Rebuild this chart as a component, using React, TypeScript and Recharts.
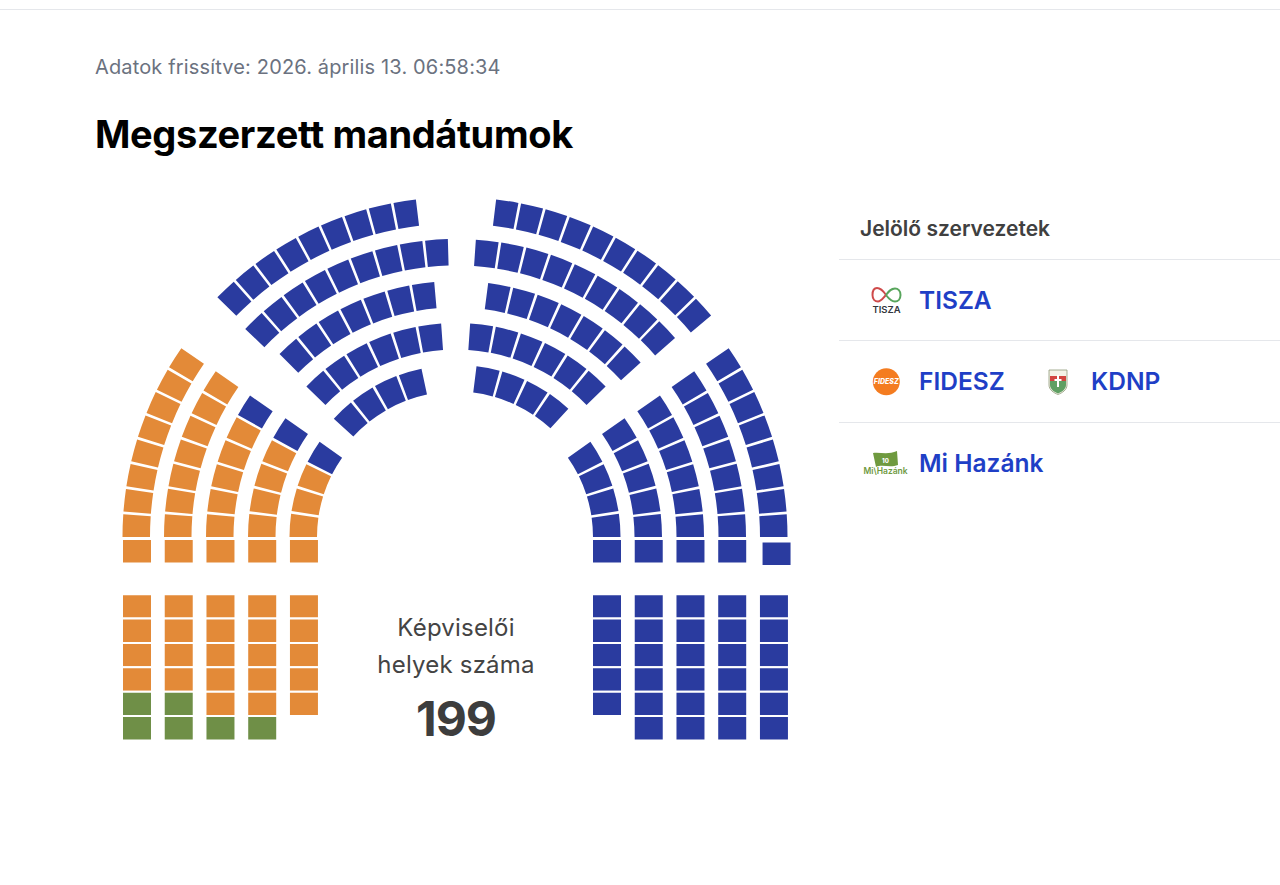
import React from 'react'
import { PieChart, Pie, Cell, BarChart, Bar, XAxis, YAxis, Rectangle } from 'recharts'

type Party = 'tisza' | 'fidesz' | 'mihazank'

const PARTY_COLORS: Record<Party, string> = {
  tisza: '#2a3b9f',
  fidesz: '#e38a38',
  mihazank: '#6f8f47',
}

// seats per row, outer row first
const sideLeftFidesz = [8, 7, 5, 4, 3]
const sideLeftTisza = [0, 0, 1, 1, 1]
const sideRightTisza = [8, 7, 6, 5, 4]
const topLeftTisza = [9, 9, 7, 6, 4]
const topRightTisza = [10, 9, 7, 6, 4]

// the horizontal seat just above the aisle
const aisleLeftParty: Party[] = ['fidesz', 'fidesz', 'fidesz', 'fidesz', 'fidesz']
const aisleRightParty: Party[] = ['tisza', 'tisza', 'tisza', 'tisza', 'tisza']

// lower blocks, per column
const lowerLeftFidesz = [4, 4, 5, 5, 5]
const lowerLeftMiHazank = [2, 2, 1, 1, 0]
const lowerRightTisza = [5, 6, 6, 6, 6]

// geometry of the rows
const topRadius = [334, 292, 250, 208, 166]
const sideRadius = [332.5, 291, 249, 207, 165.5]
const sideDepth = 27.5
const topDepth = 26.5
const topLeftEnds = [96.9, 91.6, 95, 94.1, 102]
const topLeftStarts = [135.6, 136.2, 134.9, 136, 137.4]
const topRightStarts = [83.1, 86.1, 82.6, 86.1, 82.9]
const topRightEnds = [40.2, 41.4, 42.4, 44, 47.4]
const sideSpan = [34.6, 34.7, 34.6, 35, 35.1]

const seatsOf = (counts: [Party, number][]) =>
  counts.flatMap(([party, n]) => Array.from({ length: n }, () => ({ party, value: 1 })))

const seatKeys = ['seat1', 'seat2', 'seat3', 'seat4', 'seat5', 'seat6']

function lowerColumns(aisle: Party[], columns: [Party, number][][]) {
  return columns.map((col, c) => {
    const seats = seatsOf(col)
    const row: Record<string, any> = { col: c, aisleSeat: 1, aisleParty: aisle[c], gap: 1.26 }
    seats.forEach((s, i) => {
      row[seatKeys[i]] = 1
      row[seatKeys[i] + 'Party'] = s.party
    })
    return row
  })
}

const lowerLeft = lowerColumns(
  aisleLeftParty,
  lowerLeftFidesz.map((n, i) => [['fidesz', n], ['mihazank', lowerLeftMiHazank[i]]] as [Party, number][]),
)
const lowerRight = lowerColumns(
  aisleRightParty,
  lowerRightTisza.map((n) => [['tisza', n]] as [Party, number][]),
)

function ArcRow(props: { id: string; cx: number; cy: number; from: number; to: number; radius: number; depth: number; seats: { party: Party; value: number }[] }) {
  const { id, cx, cy, from, to, radius, depth, seats } = props
  const mid = radius - depth / 2
  return (
    <Pie
      key={id}
      data={seats}
      dataKey="value"
      cx={cx}
      cy={cy}
      startAngle={from}
      endAngle={to}
      innerRadius={radius - depth}
      outerRadius={radius}
      paddingAngle={(2.6 / mid) * (180 / Math.PI)}
      stroke="none"
      isAnimationActive={false}
      legendType="none"
    >
      {seats.map((s, i) => (
        <Cell key={i} fill={PARTY_COLORS[s.party]} />
      ))}
    </Pie>
  )
}

function LowerBlock({ data, left, stray }: { data: Record<string, any>[]; left: number; stray?: number }) {
  return (
    <div style={{ position: 'absolute', left, top: 538.9 }}>
      <BarChart width={208.7} height={201.5} data={data} margin={{ top: 0, right: 0, bottom: 0, left: 0 }} barSize={30}>
        <XAxis dataKey="col" hide />
        <YAxis hide reversed domain={[0, 8.26]} />
        <Bar
          dataKey="aisleSeat"
          stackId="s"
          stroke="#fff"
          strokeWidth={2}
          isAnimationActive={false}
          shape={(p: any) => {
            const shift = p.index === stray ? 2.6 : 0
            return <Rectangle {...p} x={p.x + shift} y={p.y + shift} fill={PARTY_COLORS[data[p.index].aisleParty as Party]} />
          }}
        />
        <Bar dataKey="gap" stackId="s" fill="none" stroke="none" isAnimationActive={false} />
        {seatKeys.map((k) => (
          <Bar key={k} dataKey={k} stackId="s" stroke="#fff" strokeWidth={2} isAnimationActive={false}>
            {data.map((d, i) => (
              <Cell key={i} fill={d[k + 'Party'] ? PARTY_COLORS[d[k + 'Party'] as Party] : 'none'} />
            ))}
          </Bar>
        ))}
      </BarChart>
    </div>
  )
}

const text = (style: React.CSSProperties): React.CSSProperties => ({
  position: 'absolute',
  whiteSpace: 'nowrap',
  fontFamily: 'Inter, sans-serif',
  ...style,
})

const NAME_STYLE: React.CSSProperties = { fontSize: 24.5, fontWeight: 600, color: '#1f3fc6', lineHeight: '30px' }

function Logos() {
  return (
    <svg width={1280} height={885} style={{ position: 'absolute', left: 0, top: 0 }}>
      {/* TISZA */}
      <path d="M886 295 C882 289 879 288 877 288 C874 288 872.500 291 872.500 295 C872.500 299 875 301.500 878 301.500 C881 301.500 883 298 886 295" fill="none" stroke="#cf4a4a" strokeWidth={2} />
      <path d="M886 295 C889 291 891 288.500 895 288.500 C898 288.500 900.500 291 900.500 295 C900.500 299 898 301.500 895 301.500 C892 301.500 889 299 886 295" fill="none" stroke="#58a55c" strokeWidth={2} />
      <text x={886.5} y={312.5} textAnchor="middle" fontFamily="Inter, sans-serif" fontSize={9.5} fontWeight={600} fill="#33363d">TISZA</text>
      {/* FIDESZ */}
      <circle cx={886.3} cy={381.7} r={13.5} fill="#f47c20" />
      <text x={886.3} y={384.3} textAnchor="middle" fontFamily="Inter, sans-serif" fontSize={7} fontWeight={800} fontStyle="italic" fill="#fff">FIDESZ</text>
      {/* KDNP */}
      <path d="M1049 370 L1067 370 L1067 385 C1067 390 1062 393 1058 394.500 C1054 393 1049 390 1049 385 Z" fill="#f4f2e6" stroke="#8f9a7a" strokeWidth={0.8} />
      <rect x={1050} y={376} width={16} height={5} fill="#d2453f" />
      <path d="M1050 381 L1066 381 L1066 385 C1066 389 1062 392 1058 393.500 C1054 392 1050 389 1050 385 Z" fill="#5f9f63" />
      <rect x={1057} y={375} width={2} height={12} fill="#fff" />
      <rect x={1054.500} y={379} width={7} height={2} fill="#fff" />
      {/* Mi Hazánk */}
      <path d="M873 453 C880 452 888 455 897 451 L898 465 C890 468 882 464 876 467 Z" fill="#6f9a3f" />
      <text x={885.500} y={463} textAnchor="middle" fontFamily="Inter, sans-serif" fontSize={6} fontWeight={800} fill="#fff">10</text>
      <text x={885.500} y={474} textAnchor="middle" fontFamily="Inter, sans-serif" fontSize={8.5} fontWeight={600} fill="#6f9a3f">Mi\Hazánk</text>
    </svg>
  )
}

export default function App() {
  return (
    <div style={{ position: 'absolute', left: 0, top: 0, width: 1280, height: 885, overflow: 'hidden', background: '#fff' }}>
      <div style={{ position: 'absolute', left: 0, top: 9, width: 1280, height: 1, background: '#e5e7eb' }} />
      <div style={text({ left: 95, top: 54, fontSize: 20, color: '#6b7280', lineHeight: '26px', letterSpacing: 0.15 })}>Adatok frissítve: 2026. április 13. 06:58:34</div>
      <div style={text({ left: 95, top: 110, fontSize: 38, fontWeight: 700, color: '#000', lineHeight: '48px', letterSpacing: -0.35 })}>Megszerzett mandátumok</div>

      <div style={{ position: 'absolute', left: 0, top: 0 }}>
        <PieChart width={1280} height={885} margin={{ top: 0, right: 0, bottom: 0, left: 0 }}>
          {sideRadius.map((radius, r) =>
            ArcRow({
              id: `sl${r}`,
              cx: 455,
              cy: 537,
              from: 180,
              to: 180 - sideSpan[r],
              radius,
              depth: sideDepth,
              seats: seatsOf([['fidesz', sideLeftFidesz[r]], ['tisza', sideLeftTisza[r]]]),
            }),
          )}
          {sideRadius.map((radius, r) =>
            ArcRow({
              id: `sr${r}`,
              cx: 455,
              cy: 537,
              from: 0,
              to: sideSpan[r],
              radius,
              depth: sideDepth,
              seats: seatsOf([['tisza', sideRightTisza[r]]]),
            }),
          )}
          {topRadius.map((radius, r) =>
            ArcRow({
              id: `tl${r}`,
              cx: 456,
              cy: 531,
              from: topLeftStarts[r],
              to: topLeftEnds[r],
              radius,
              depth: topDepth,
              seats: seatsOf([['tisza', topLeftTisza[r]]]),
            }),
          )}
          {topRadius.map((radius, r) =>
            ArcRow({
              id: `tr${r}`,
              cx: 456,
              cy: 531,
              from: topRightStarts[r],
              to: topRightEnds[r],
              radius,
              depth: topDepth,
              seats: seatsOf([['tisza', topRightTisza[r]]]),
            }),
          )}
        </PieChart>
      </div>

      <LowerBlock data={lowerLeft} left={115.8} />
      <LowerBlock data={lowerRight} left={586} stray={4} />

      <div style={text({ left: 356, width: 200, top: 612, textAlign: 'center', fontSize: 24, color: '#444', lineHeight: '32px', letterSpacing: 0.2 })}>Képviselői</div>
      <div style={text({ left: 356, width: 200, top: 649, textAlign: 'center', fontSize: 24, color: '#444', lineHeight: '32px', letterSpacing: 0.2 })}>helyek száma</div>
      <div style={text({ left: 356, width: 200, top: 690, textAlign: 'center', fontSize: 48, fontWeight: 700, color: '#3d3d3d', lineHeight: '58px', letterSpacing: -1 })}>199</div>

      <div style={text({ left: 860, top: 215, fontSize: 21, fontWeight: 600, color: '#404040', lineHeight: '28px' })}>Jelölő szervezetek</div>
      {[259, 340, 422].map((y) => (
        <div key={y} style={{ position: 'absolute', left: 839, top: y, width: 441, height: 1, background: '#e5e7eb' }} />
      ))}
      <Logos />
      <div style={text({ left: 919, top: 285, ...NAME_STYLE })}>TISZA</div>
      <div style={text({ left: 919, top: 366, ...NAME_STYLE })}>FIDESZ</div>
      <div style={text({ left: 1091, top: 366, ...NAME_STYLE })}>KDNP</div>
      <div style={text({ left: 919, top: 448, ...NAME_STYLE })}>Mi Hazánk</div>
    </div>
  )
}
